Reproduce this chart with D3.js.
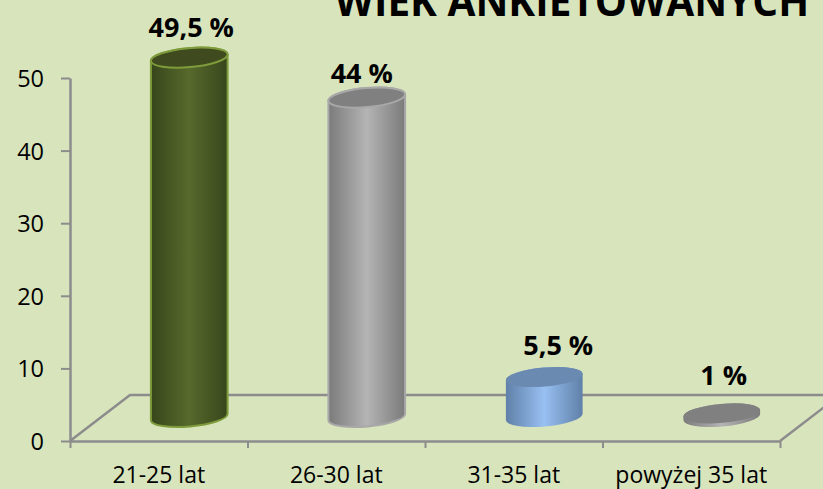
<!DOCTYPE html>
<html>
  <head>
    <meta charset="UTF-8">
    <title>Wiek ankietowanych</title>
    <style>
      html, body { margin: 0; padding: 0; background: #d8e4bc; overflow: hidden; }
      text { font-family: "Open Sans", sans-serif; fill: #000; }
      .axis path { stroke: #8c8c8c; stroke-width: 2.5; }
      .axis line { stroke: #8c8c8c; stroke-width: 2; }
      .floor { stroke: #8c8c8c; stroke-width: 2.5; fill: none; }
    </style>
  </head>

  <body>
    <script src="https://d3js.org/d3.v7.min.js"></script>
    <svg width="823" height="489" id="chart"></svg>
    <script>
      var categories = ["21-25 lat", "26-30 lat", "31-35 lat", "powyżej 35 lat"];
      // last bar is drawn much shorter than its "1 %" label, 0.5 is the height in the picture
      var values = [49.5, 44, 5.5, 0.5];
      var valueLabels = ["49,5 %", "44 %", "5,5 %", "1 %"];
      var yTicks = [0, 10, 20, 30, 40, 50];

      var barEdge = ["#37461b", "#7b7b7b", "#5f80a8", "#7b7b7b"];
      var barMid = ["#57692c", "#b4b4b4", "#98c0f2", "#b4b4b4"];
      var barTop = ["#3f4b1e", "#808080", "#6a8ab2", "#808080"];
      var barStroke = ["#7f9c3c", "#a8a8a8", "none", "none"];

      var svg = d3.select("#chart"),
          plotLeft = 70,
          plotRight = 780,
          zero = 441,
          depthX = 60,
          depthY = 46;

      var x = d3.scaleBand().domain(categories).range([plotLeft, plotRight]);
      var y = d3.scaleLinear().domain([0, 50]).range([zero, 78]);
      var edges = d3.scaleLinear().domain([0, 4]).range([plotLeft, plotRight]);

      // floor of the 3d box goes under the bars
      svg.append("path").attr("class", "floor")
        .attr("d", "M" + plotLeft + "," + zero + "L" + (plotLeft + depthX) + "," + (zero - depthY) + "H" + 830);
      svg.append("path").attr("class", "floor")
        .attr("d", "M" + plotRight + "," + zero + "L" + (plotRight + depthX) + "," + (zero - depthY));

      var yAxis = svg.append("g").attr("class", "axis")
        .attr("transform", "translate(" + plotLeft + ",0)")
        .call(d3.axisLeft(y).tickValues(yTicks).tickSize(9).tickSizeOuter(0));
      yAxis.attr("font-family", null);
      yAxis.selectAll("text").attr("font-size", 23.5).attr("x", -26).attr("y", 1);

      svg.append("g").attr("class", "axis")
        .attr("transform", "translate(0," + zero + ")")
        .call(d3.axisBottom(edges).ticks(4).tickSize(7).tickSizeOuter(0).tickFormat(""));

      var xLabels = svg.append("g")
        .attr("transform", "translate(0," + zero + ")")
        .call(d3.axisBottom(x).tickSize(0));
      xLabels.attr("font-family", null);
      xLabels.select("path").remove();
      xLabels.selectAll("text").attr("font-size", 23).attr("y", 34.5).attr("dy", "0.32em");

      // gradients, one per bar
      var defs = svg.append("defs");
      categories.forEach(function(c, i) {
        var g = defs.append("linearGradient").attr("id", "bar" + i);
        g.append("stop").attr("offset", "0%").attr("stop-color", barEdge[i]);
        g.append("stop").attr("offset", "50%").attr("stop-color", barMid[i]);
        g.append("stop").attr("offset", "100%").attr("stop-color", barEdge[i]);
      });

      var rx = 38.5, ry = 9.5, tilt = -5,
          shiftX = 30.5, shiftY = 24,
          dx = rx * Math.cos(tilt * Math.PI / 180),
          dy = rx * Math.sin(tilt * Math.PI / 180);

      function centerX(i) { return x(categories[i]) + x.bandwidth() / 2 + shiftX; }
      function baseY() { return y(0) - shiftY; }
      function topY(d) { return y(d) - shiftY; }
      function arc(sweep, px, py) {
        return "A" + rx + "," + ry + " " + tilt + " 0 " + sweep + " " + px + "," + py;
      }

      var bars = svg.selectAll(".bar").data(values).enter().append("g").attr("class", "bar");

      // cylinder body: left side, front of the bottom ellipse, right side, back over the top
      bars.append("path")
        .attr("fill", function(d, i) { return "url(#bar" + i + ")"; })
        .attr("stroke", function(d, i) { return barStroke[i]; })
        .attr("stroke-width", 2)
        .attr("d", function(d, i) {
          var c = centerX(i);
          return "M" + (c - dx) + "," + (topY(d) - dy) +
            "L" + (c - dx) + "," + (baseY() - dy) +
            arc(0, c + dx, baseY() + dy) +
            "L" + (c + dx) + "," + (topY(d) + dy) +
            arc(0, c - dx, topY(d) - dy) + "Z";
        });

      // top cap
      bars.append("ellipse")
        .attr("rx", rx).attr("ry", ry)
        .attr("transform", function(d, i) {
          return "translate(" + centerX(i) + "," + topY(d) + ") rotate(" + tilt + ")";
        })
        .attr("fill", function(d, i) { return barTop[i]; })
        .attr("stroke", function(d, i) { return barStroke[i]; })
        .attr("stroke-width", 2);

      // labels were placed by hand in the original, so they are not centred on the bars
      var labelDx = [2, -5, 14, 2], labelDy = [-21, -15, -22, -28];
      bars.append("text")
        .attr("x", function(d, i) { return centerX(i) + labelDx[i]; })
        .attr("y", function(d, i) { return topY(d) + labelDy[i]; })
        .attr("text-anchor", "middle")
        .attr("font-size", 27)
        .attr("font-weight", 700)
        .text(function(d, i) { return valueLabels[i]; });

      // cut off by the top edge in the reference as well
      svg.append("text")
        .attr("x", 572).attr("y", 16)
        .attr("text-anchor", "middle")
        .attr("font-size", 40.5)
        .attr("font-weight", 700)
        .text("WIEK ANKIETOWANYCH");
    </script>
  </body>
</html>
